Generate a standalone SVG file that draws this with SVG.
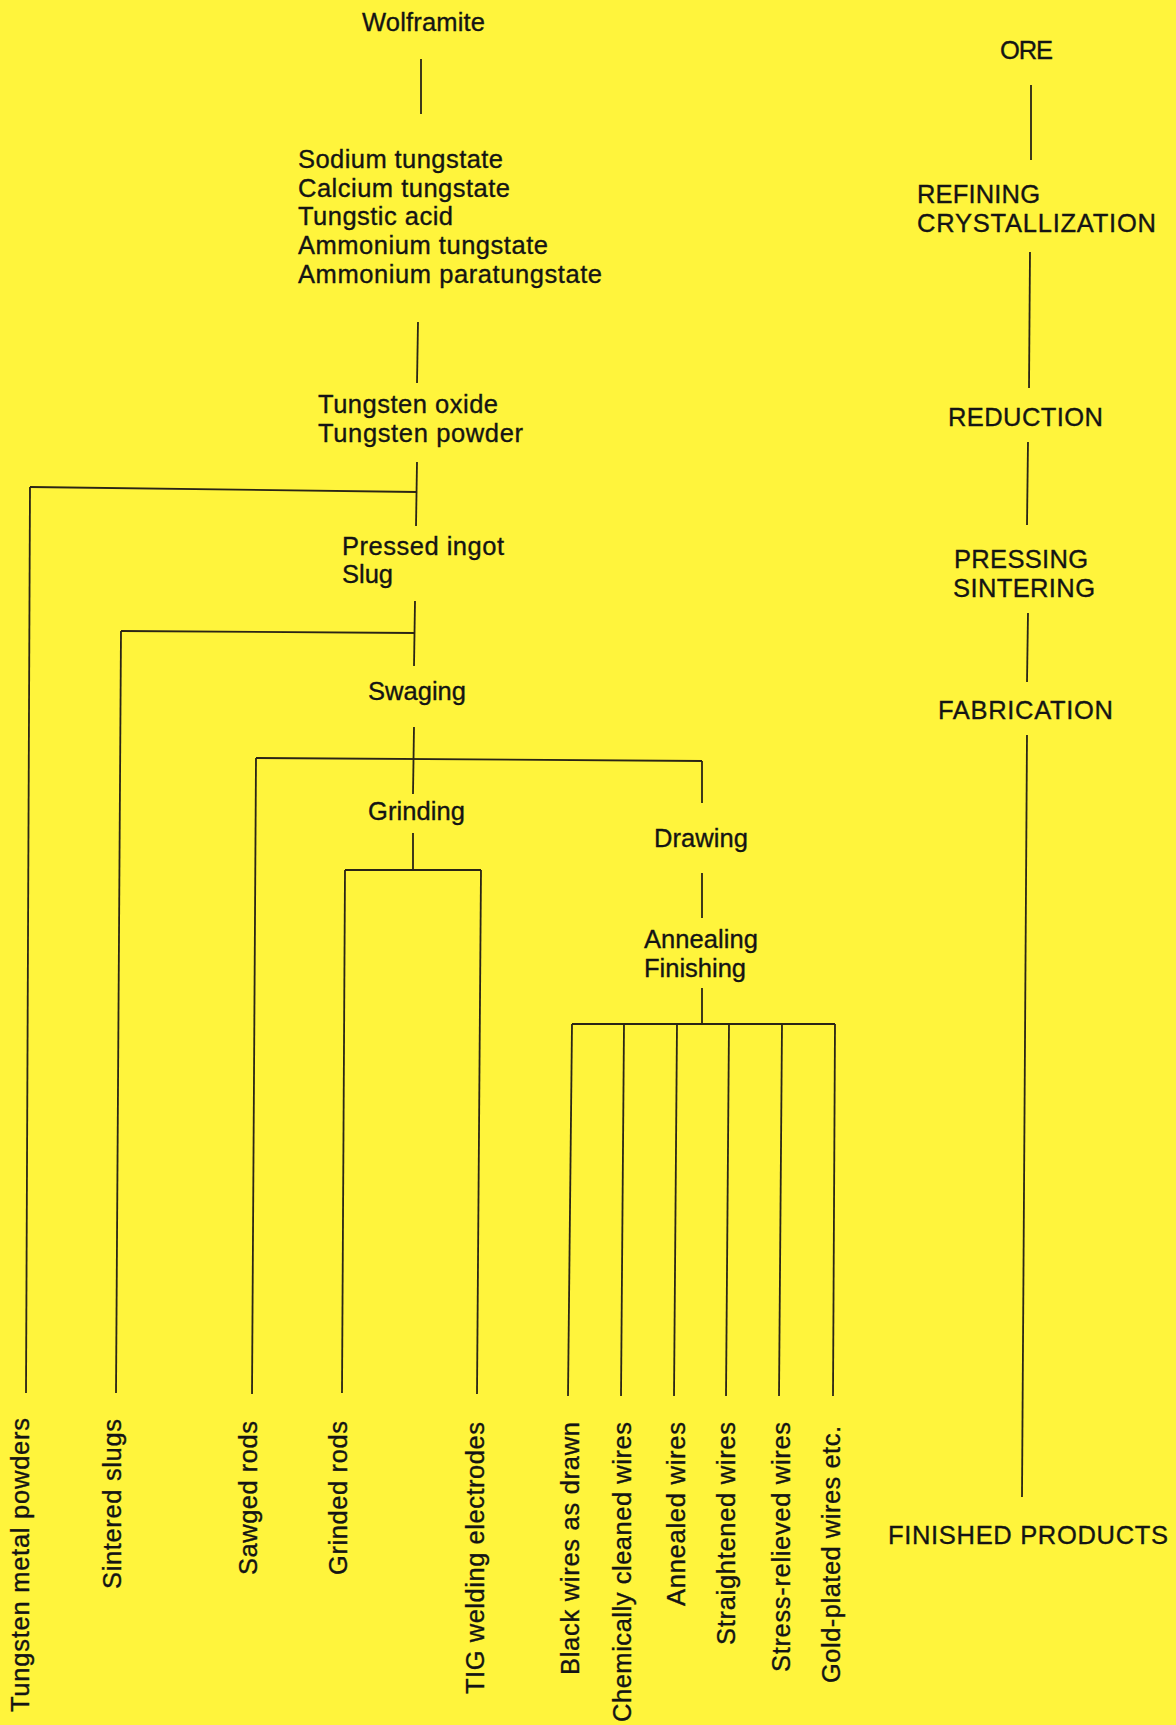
<svg xmlns="http://www.w3.org/2000/svg" width="1176" height="1725" viewBox="0 0 1176 1725">
<style>
  .bg { fill: #FFF43C; }
  text { font-family: "Liberation Sans", Arial, Helvetica, sans-serif; font-size: 25.5px; fill: #141414; stroke: #141414; stroke-width: 0.35px; }
  .c { fill: none; stroke: #2a2416; stroke-width: 1.8; stroke-linecap: butt; }
</style>
<rect class="bg" x="0" y="0" width="1176" height="1725"/>

<g id="connectors">
  <path class="c" d="M421,59 L421,114"/>
  <path class="c" d="M418,322 L417,383"/>
  <path class="c" d="M417,462 L416,526"/>
  <path class="c" d="M30,487 L417,492"/>
  <path class="c" d="M30,487 L26,1393"/>
  <path class="c" d="M415,601 L414,666"/>
  <path class="c" d="M121,631 L415,633"/>
  <path class="c" d="M121,631 L116,1393"/>
  <path class="c" d="M414,727 L413,794"/>
  <path class="c" d="M256,758 L702,761"/>
  <path class="c" d="M256,758 L252,1394"/>
  <path class="c" d="M702,761 L702,803"/>
  <path class="c" d="M413,833 L413,870"/>
  <path class="c" d="M345,870 L481,870"/>
  <path class="c" d="M345,870 L342,1393"/>
  <path class="c" d="M481,870 L477,1394"/>
  <path class="c" d="M702,873 L702,918"/>
  <path class="c" d="M702,988 L702,1024"/>
  <path class="c" d="M572,1024 L835,1024"/>
  <path class="c" d="M572,1024 L568,1396"/>
  <path class="c" d="M624,1024 L621,1396"/>
  <path class="c" d="M677,1024 L674,1396"/>
  <path class="c" d="M729,1024 L726,1396"/>
  <path class="c" d="M782,1024 L779,1396"/>
  <path class="c" d="M835,1024 L833,1396"/>
  <path class="c" d="M1031,85 L1031,160"/>
  <path class="c" d="M1030,252 L1029,388"/>
  <path class="c" d="M1028,442 L1027,525"/>
  <path class="c" d="M1028,613 L1027,682"/>
  <path class="c" d="M1027,735 L1022,1497"/>
</g>

<g id="wolframite"><text x="362" y="31" font-size="24" textLength="123">Wolframite</text></g>
<g id="tungstates">
  <text x="298" y="168" textLength="205">Sodium tungstate</text>
  <text x="298" y="197" textLength="212">Calcium tungstate</text>
  <text x="298" y="225" textLength="155">Tungstic acid</text>
  <text x="298" y="254" textLength="250">Ammonium tungstate</text>
  <text x="298" y="283" textLength="304">Ammonium paratungstate</text>
</g>
<g id="oxide-powder">
  <text x="318" y="413" textLength="180">Tungsten oxide</text>
  <text x="318" y="442" textLength="205">Tungsten powder</text>
</g>
<g id="ingot-slug">
  <text x="342" y="555" textLength="162">Pressed ingot</text>
  <text x="342" y="583" textLength="51">Slug</text>
</g>
<g id="swaging"><text x="368" y="700" textLength="98">Swaging</text></g>
<g id="grinding"><text x="368" y="820" textLength="97">Grinding</text></g>
<g id="drawing"><text x="654" y="847" textLength="94">Drawing</text></g>
<g id="annealing-finishing">
  <text x="644" y="948" textLength="114">Annealing</text>
  <text x="644" y="977" textLength="102">Finishing</text>
</g>

<g id="stage-ore"><text x="1000" y="59" textLength="53">ORE</text></g>
<g id="stage-refining">
  <text x="917" y="203" textLength="123">REFINING</text>
  <text x="917" y="232" textLength="239">CRYSTALLIZATION</text>
</g>
<g id="stage-reduction"><text x="948" y="426" textLength="155">REDUCTION</text></g>
<g id="stage-pressing">
  <text x="954" y="568" textLength="134">PRESSING</text>
  <text x="953" y="597" textLength="142">SINTERING</text>
</g>
<g id="stage-fabrication"><text x="938" y="719" textLength="175">FABRICATION</text></g>
<g id="stage-finished"><text x="888" y="1544" textLength="280">FINISHED PRODUCTS</text></g>

<g id="p-tungsten-metal-powders"><text transform="translate(29,1712) rotate(-90)" textLength="294">Tungsten metal powders</text></g>
<g id="p-sintered-slugs"><text transform="translate(121,1589) rotate(-90)" textLength="170">Sintered slugs</text></g>
<g id="p-sawged-rods"><text transform="translate(257,1575) rotate(-90)" textLength="154">Sawged rods</text></g>
<g id="p-grinded-rods"><text transform="translate(347,1575) rotate(-90)" textLength="154">Grinded rods</text></g>
<g id="p-tig"><text transform="translate(484,1694) rotate(-90)" textLength="272">TIG welding electrodes</text></g>
<g id="p-black"><text transform="translate(579,1675) rotate(-90)" textLength="253">Black wires as drawn</text></g>
<g id="p-chem"><text transform="translate(631,1722) rotate(-90)" textLength="300">Chemically cleaned wires</text></g>
<g id="p-annealed"><text transform="translate(685,1606) rotate(-90)" textLength="184">Annealed wires</text></g>
<g id="p-straightened"><text transform="translate(735,1645) rotate(-90)" textLength="223">Straightened wires</text></g>
<g id="p-stress"><text transform="translate(790,1672) rotate(-90)" textLength="250">Stress-relieved wires</text></g>
<g id="p-gold"><text transform="translate(840,1683) rotate(-90)" textLength="257">Gold-plated wires etc.</text></g>
</svg>
